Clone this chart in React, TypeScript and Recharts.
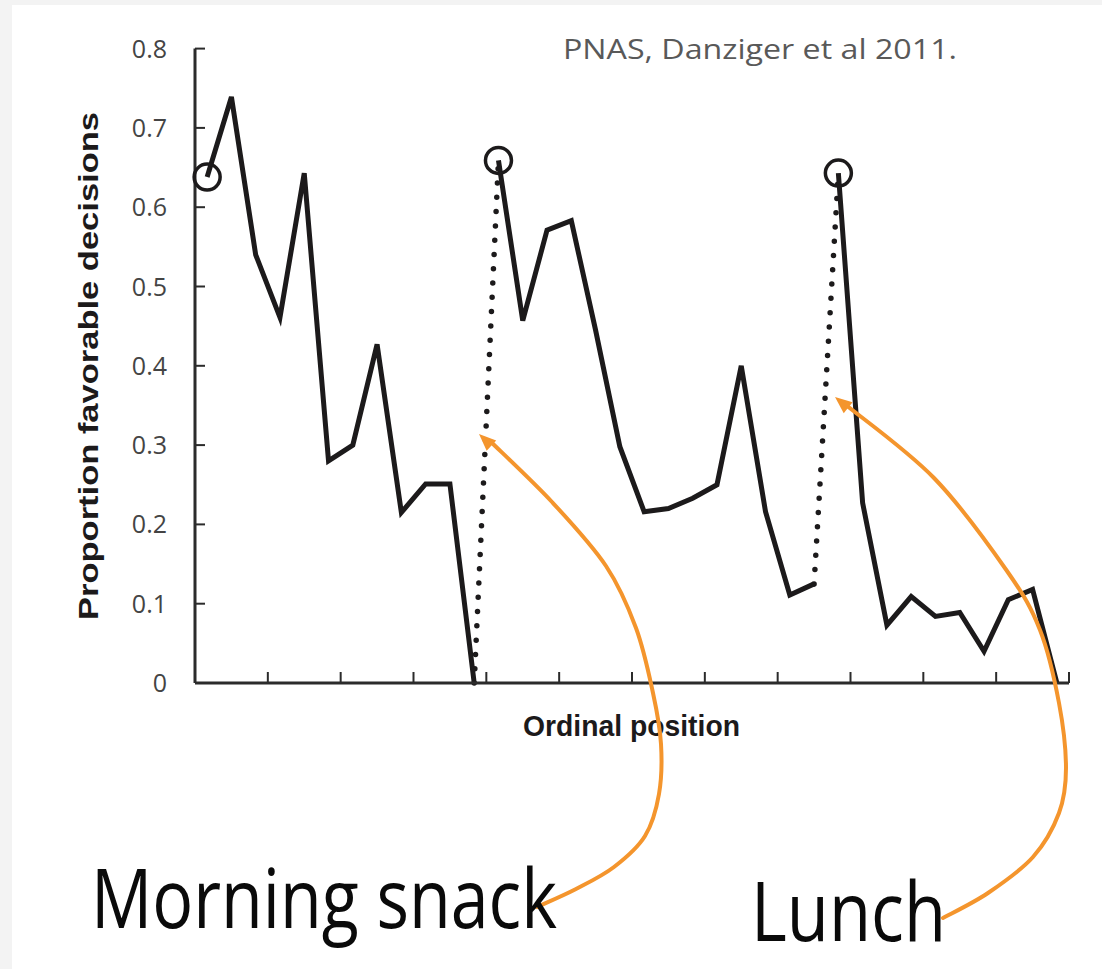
import React from 'react';
import { LineChart, Line, XAxis, YAxis, ReferenceDot } from 'recharts';

// proportion of favorable decisions, one value per ordinal position
const morningSession = [0.638, 0.739, 0.54, 0.461, 0.643, 0.28, 0.3, 0.427, 0.215, 0.251, 0.251, 0.0];
const middaySession = [0.659, 0.457, 0.571, 0.583, 0.445, 0.298, 0.216, 0.22, 0.233, 0.25, 0.4, 0.216, 0.111, 0.125];
const afternoonSession = [0.643, 0.227, 0.073, 0.109, 0.084, 0.089, 0.04, 0.105, 0.118, 0.0];

const yTicks = [0, 0.1, 0.2, 0.3, 0.4, 0.5, 0.6, 0.7, 0.8];
const xTicks = [0, 3, 6, 9, 12, 15, 18, 21, 24, 27, 30, 33, 36];

const sessions = [morningSession, middaySession, afternoonSession];
const starts = [0, morningSession.length, morningSession.length + middaySession.length];
const total = starts[2] + afternoonSession.length;

type Row = { x: number; s1: number | null; s2: number | null; s3: number | null; gap: number | null };

const rows: Row[] = [];
for (let i = 0; i < total; i++) {
  const k = i >= starts[2] ? 2 : i >= starts[1] ? 1 : 0;
  const v = sessions[k][i - starts[k]];
  // the dotted jump joins the last point of a session to the first of the next
  const isEdge =
    i === starts[1] - 1 || i === starts[1] || i === starts[2] - 1 || i === starts[2];
  rows.push({
    x: i + 0.5,
    s1: k === 0 ? v : null,
    s2: k === 1 ? v : null,
    s3: k === 2 ? v : null,
    gap: isEdge ? v : null,
  });
}

const INK = '#1c1a1b';
const AXIS = '#2b2b2b';
const ORANGE = '#f4952d';

function smoothPath(pts: number[][]) {
  let d = `M${pts[0][0]},${pts[0][1]}`;
  for (let i = 0; i < pts.length - 1; i++) {
    const p0 = pts[i - 1] || pts[i];
    const p1 = pts[i];
    const p2 = pts[i + 1];
    const p3 = pts[i + 2] || p2;
    const c1x = p1[0] + (p2[0] - p0[0]) / 6;
    const c1y = p1[1] + (p2[1] - p0[1]) / 6;
    const c2x = p2[0] - (p3[0] - p1[0]) / 6;
    const c2y = p2[1] - (p3[1] - p1[1]) / 6;
    d += ` C${c1x},${c1y} ${c2x},${c2y} ${p2[0]},${p2[1]}`;
  }
  return d;
}

function arrowHead(tip: number[], from: number[], len = 17, half = 7) {
  const dx = tip[0] - from[0];
  const dy = tip[1] - from[1];
  const n = Math.hypot(dx, dy);
  const ux = dx / n;
  const uy = dy / n;
  const bx = tip[0] - ux * len;
  const by = tip[1] - uy * len;
  return `M${tip[0]},${tip[1]} L${bx - uy * half},${by + ux * half} L${bx + uy * half},${by - ux * half} Z`;
}

// hand-drawn annotation arrows (screen coordinates)
const snackArrow = [
  [537, 907], [576, 889], [614, 867], [645, 836], [659, 794], [661, 744],
  [653, 693], [636, 628], [606, 566], [552, 502], [490, 441],
];
const lunchArrow = [
  [943, 918], [988, 893], [1033, 857], [1059, 813], [1066, 768], [1059, 703],
  [1040, 630], [1007, 571], [934, 478], [846, 405],
];

// inward tick marks, drawn by hand since the figure has them inside the frame
const XTick = (p: any) => (
  <line x1={p.x} x2={p.x} y1={p.y} y2={p.y - 11} stroke={AXIS} strokeWidth={2} />
);

const YTick = (p: any) => {
  const v = p.payload.value as number;
  return (
    <g>
      <line x1={p.x} x2={p.x + 10} y1={p.y} y2={p.y} stroke={AXIS} strokeWidth={2} />
      <text
        x={p.x - 28}
        y={p.y}
        dy="0.36em"
        textAnchor="end"
        fill="#444"
        fontSize={25}
        fontFamily="'Open Sans', sans-serif"
      >
        {v === 0 ? '0' : v.toFixed(1)}
      </text>
    </g>
  );
};

function Annotations() {
  return (
    <svg
      width={1102}
      height={969}
      style={{ position: 'absolute', left: 0, top: 0, pointerEvents: 'none' }}
    >
      <text
        x={563}
        y={59}
        fontFamily="'Open Sans', sans-serif"
        fontSize={27}
        fill="#595959"
        textLength={394}
        lengthAdjust="spacingAndGlyphs"
      >
        PNAS, Danziger et al 2011.
      </text>

      <text
        transform="translate(98,366) rotate(-90)"
        textAnchor="middle"
        fontFamily="'Liberation Sans', Arial, sans-serif"
        fontWeight="bold"
        fontSize={27}
        fill={INK}
        textLength={508}
        lengthAdjust="spacingAndGlyphs"
      >
        Proportion favorable decisions
      </text>

      <text
        x={523}
        y={736}
        fontFamily="'Liberation Sans', Arial, sans-serif"
        fontWeight="bold"
        fontSize={29}
        fill={INK}
        textLength={217}
        lengthAdjust="spacingAndGlyphs"
      >
        Ordinal position
      </text>

      <path d={smoothPath(snackArrow)} fill="none" stroke={ORANGE} strokeWidth={4} strokeLinecap="round" />
      <path d={arrowHead([479, 434], [552, 502])} fill={ORANGE} />
      <path d={smoothPath(lunchArrow)} fill="none" stroke={ORANGE} strokeWidth={4} strokeLinecap="round" />
      <path d={arrowHead([835, 397], [934, 478])} fill={ORANGE} />

      <text
        x={91}
        y={928}
        fontFamily="'Open Sans', sans-serif"
        fontSize={82}
        fill="#0a0a0a"
        textLength={466}
        lengthAdjust="spacingAndGlyphs"
      >
        Morning snack
      </text>
      <text
        x={751}
        y={941}
        fontFamily="'Open Sans', sans-serif"
        fontSize={82}
        fill="#0a0a0a"
        textLength={195}
        lengthAdjust="spacingAndGlyphs"
      >
        Lunch
      </text>
    </svg>
  );
}

export default function App() {
  const firsts = [
    { x: rows[starts[0]].x, y: morningSession[0] },
    { x: rows[starts[1]].x, y: middaySession[0] },
    { x: rows[starts[2]].x, y: afternoonSession[0] },
  ];

  return (
    <div
      style={{
        position: 'absolute',
        left: 0,
        top: 0,
        width: 1102,
        height: 969,
        background: '#f3f3f3',
        overflow: 'hidden',
      }}
    >
      <div style={{ position: 'absolute', left: 12, top: 5, width: 1090, height: 964, background: '#fff' }} />

      <div style={{ position: 'absolute', left: 0, top: 0 }}>
        <LineChart
          width={1102}
          height={969}
          data={rows}
          margin={{ top: 48.6, right: 33, bottom: 256, left: 135 }}
        >
          <XAxis
            type="number"
            dataKey="x"
            domain={[0, 36]}
            ticks={xTicks}
            interval={0}
            height={30}
            tickSize={0}
            tickMargin={0}
            tickLine={false}
            tick={XTick}
            axisLine={{ stroke: AXIS, strokeWidth: 3 }}
          />
          <YAxis
            type="number"
            domain={[0, 0.8]}
            ticks={yTicks}
            interval={0}
            width={60}
            tickSize={0}
            tickMargin={0}
            tickLine={false}
            tick={YTick}
            axisLine={{ stroke: AXIS, strokeWidth: 3 }}
          />

          <Line
            dataKey="gap"
            stroke={INK}
            strokeWidth={5.5}
            strokeDasharray="0 14.3"
            strokeLinecap="round"
            dot={false}
            activeDot={false}
            isAnimationActive={false}
          />
          {['s1', 's2', 's3'].map((k) => (
            <Line
              key={k}
              dataKey={k}
              type="linear"
              stroke={INK}
              strokeWidth={5}
              strokeLinejoin="miter"
              dot={false}
              activeDot={false}
              isAnimationActive={false}
            />
          ))}

          {firsts.map((p, i) => (
            <ReferenceDot
              key={i}
              x={p.x}
              y={p.y}
              r={13}
              fill="none"
              stroke={INK}
              strokeWidth={3.5}
            />
          ))}
        </LineChart>
      </div>

      <Annotations />
    </div>
  );
}
